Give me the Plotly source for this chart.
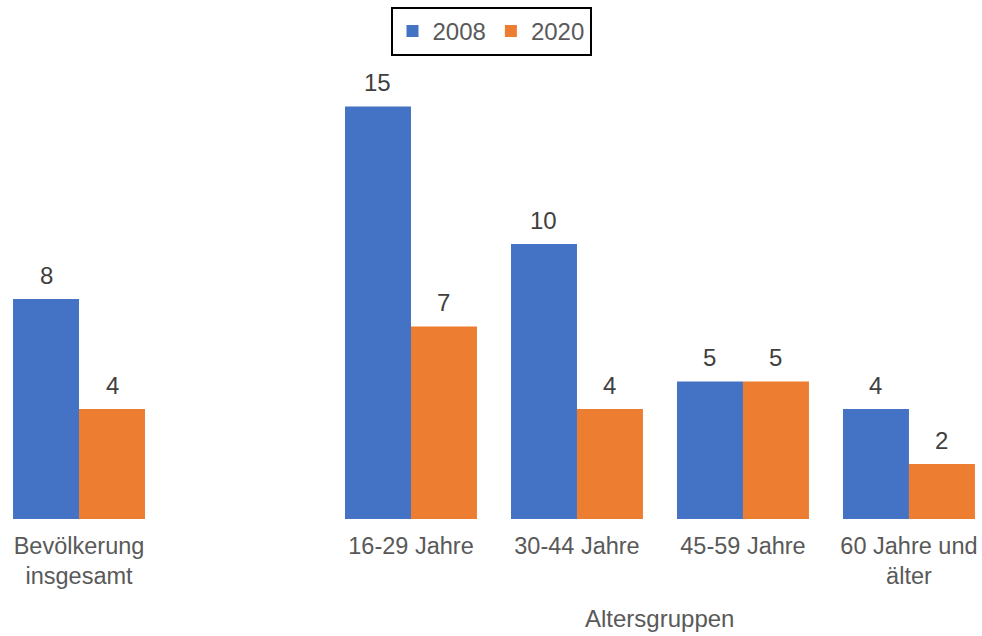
import plotly.graph_objects as go

categories = ["Bevölkerung<br>insgesamt", " ", "16-29 Jahre", "30-44 Jahre", "45-59 Jahre", "60 Jahre und<br>älter"]
values_2008 = [8, None, 15, 10, 5, 4]
values_2020 = [4, None, 7, 4, 5, 2]
series_names = ["2008", "2020"]
colors = ["#4472C4", "#ED7D31"]
axis_title = "Altersgruppen"

W, H = 982, 636
m_l, m_r, m_t, m_b = 0, 0, 60, 117
x_range = [-0.476, 5.44]
y_range = [0, 16.69]
bargap = 0.205
FONT = "Arial, Liberation Sans, sans-serif"

fig = go.Figure()
for name, vals, col in zip(series_names, [values_2008, values_2020], colors):
    fig.add_trace(go.Bar(x=categories, y=vals, name=name, marker_color=col,
                         marker_line_width=0))

px_per_cat = (W - m_l - m_r) / (x_range[1] - x_range[0])
shift = (1 - bargap) / 4 * px_per_cat
annotations = []
for sgn, vals in zip([-1, 1], [values_2008, values_2020]):
    for c, v in zip(categories, vals):
        if v is None:
            continue
        annotations.append(dict(x=c, y=v, xref="x", yref="y", text=str(v),
                                showarrow=False, xshift=sgn * shift, yshift=8,
                                yanchor="bottom",
                                font=dict(family=FONT, size=24, color="#404040")))
annotations.append(dict(x=3.5, xref="x", y=0, yref="paper", yshift=-84,
                        yanchor="top", text=axis_title, showarrow=False,
                        font=dict(family=FONT, size=24, color="#595959")))

fig.update_layout(
    width=W, height=H,
    margin=dict(l=m_l, r=m_r, t=m_t, b=m_b, autoexpand=False),
    paper_bgcolor="white", plot_bgcolor="white",
    barmode="group", bargap=bargap, bargroupgap=0,
    font=dict(family=FONT, size=24, color="#595959"),
    xaxis=dict(type="category", categoryorder="array", categoryarray=categories,
               range=x_range, showgrid=False, showline=False, zeroline=False,
               automargin=False, ticks="", ticklabelstandoff=10,
               tickfont=dict(size=23.5, color="#595959")),
    yaxis=dict(range=y_range, visible=False, automargin=False),
    legend=dict(orientation="h", x=0.5, xanchor="center", y=1 + 53 / (H - m_t - m_b),
                yanchor="top", bordercolor="black", borderwidth=2,
                font=dict(size=24, color="#595959"), bgcolor="white"),
    annotations=annotations,
    showlegend=True,
)

fig.write_html("out.html", config={"displayModeBar": False},
               post_script="document.body.style.margin='0px';document.body.style.overflow='hidden';")
